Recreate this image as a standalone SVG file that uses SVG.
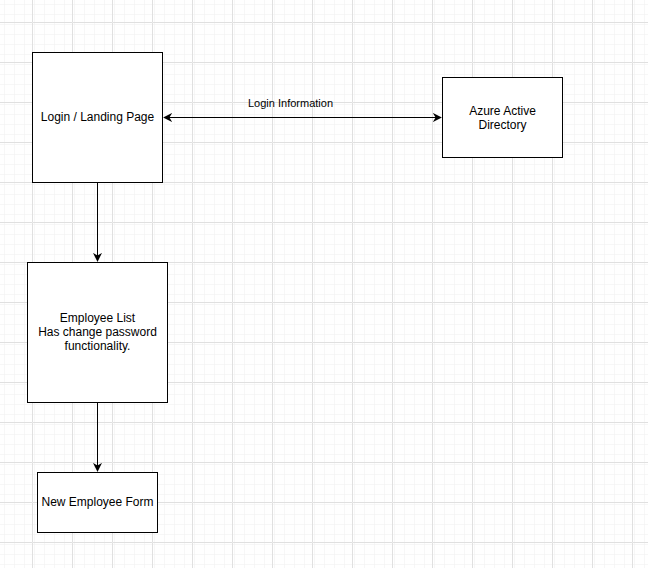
<svg xmlns="http://www.w3.org/2000/svg" width="648" height="568" viewBox="0 0 648 568">
<defs>
<pattern id="minor" width="10" height="10" patternUnits="userSpaceOnUse" x="2" y="2">
<path d="M 10 0 L 0 0 0 10" fill="none" stroke="#f0f0f0" stroke-width="1"/>
</pattern>
<pattern id="major" width="40" height="40" patternUnits="userSpaceOnUse" x="32" y="22">
<rect width="40" height="40" fill="url(#minor)"/>
<path d="M 40 0.5 L 0.5 0.5 0.5 40" fill="none" stroke="#e0e0e0" stroke-width="1"/>
</pattern>
<marker id="arr" viewBox="0 0 10 10" refX="9" refY="5" markerWidth="9" markerHeight="9" markerUnits="userSpaceOnUse" orient="auto-start-reverse">
<path d="M0,0 L10,5 L0,10 L3,5 Z" fill="#000"/>
</marker>
<style>
.box{fill:#fff;stroke:#000;stroke-width:1}
.t{font-family:"Liberation Sans",Arial,sans-serif;font-size:12px;fill:#000;text-anchor:middle}
.l{font-family:"Liberation Sans",Arial,sans-serif;font-size:11px;fill:#000;text-anchor:middle}
.c{stroke:#000;stroke-width:1;fill:none}
</style>
</defs>
<rect width="648" height="568" fill="#fff"/>
<rect width="648" height="568" fill="url(#major)"/>
<g id="connectors">
<path class="c" d="M97.5,182.5 V261" marker-end="url(#arr)"/>
<path class="c" d="M97.5,402.5 V471" marker-end="url(#arr)"/>
<path class="c" d="M164,117.5 H441" marker-start="url(#arr)" marker-end="url(#arr)"/>
<text class="l" x="290.5" y="107">Login Information</text>
</g>
<g id="login">
<rect class="box" x="32.5" y="52.5" width="130" height="130"/>
<text class="t" x="97.5" y="120.5">Login / Landing Page</text>
</g>
<g id="azure">
<rect class="box" x="442.5" y="77.5" width="120" height="80"/>
<text class="t" x="502.5" y="114.5">Azure Active</text>
<text class="t" x="502.5" y="128.5">Directory</text>
</g>
<g id="employeeList">
<rect class="box" x="27.5" y="262.5" width="140" height="140"/>
<text class="t" x="97.5" y="321.5">Employee List</text>
<text class="t" x="97.5" y="335.5">Has change password</text>
<text class="t" x="97.5" y="349.5">functionality.</text>
</g>
<g id="newEmployee">
<rect class="box" x="37.5" y="472.5" width="120" height="60"/>
<text class="t" x="97.5" y="505.5">New Employee Form</text>
</g>
</svg>
